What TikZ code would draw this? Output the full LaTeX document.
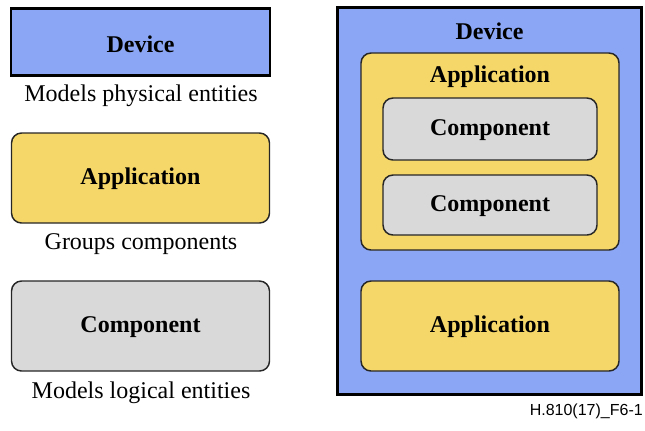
\documentclass[tikz,border=0pt]{standalone}
\usepackage{fontspec}
\setmainfont{Liberation Serif}
\newfontfamily\figsans{Liberation Sans}
\definecolor{devblue}{RGB}{139,166,245}
\definecolor{appyellow}{RGB}{245,215,105}
\definecolor{compgray}{RGB}{217,217,217}
\begin{document}
\begin{tikzpicture}[x=0.75pt,y=-0.75pt,
  boxtitle/.style={font=\fontsize{18}{20}\selectfont\bfseries, inner sep=0pt},
  devbox/.style={draw=black, fill=devblue, line width=2.2pt, inner sep=0pt},
  roundbox/.style={draw=black!85, line width=1.1pt, rounded corners=7.5pt, inner sep=0pt,
     font=\fontsize{18}{20}\selectfont\bfseries, text height=12.5pt, text depth=3pt},
  appbox/.style={roundbox, fill=appyellow},
  compbox/.style={roundbox, fill=compgray},
  caption/.style={font=\fontsize{18}{20}\selectfont, inner sep=0pt, anchor=base}]
\useasboundingbox (0,0) rectangle (645,430);
% left legend
\node[devbox, minimum width=194.25pt, minimum height=50.25pt] (ldev) at (140.5,42) {};
\node[boxtitle, anchor=base] (ldevt) at (140.5,52.5) {Device};
\node[caption] (lcap1) at (141,101.5) {Models physical entities};
\node[appbox, minimum width=193.5pt, minimum height=67.5pt] (lapp) at (140.5,178) {Application};
\node[caption] (lcap2) at (141,249.5) {Groups components};
\node[compbox, minimum width=193.5pt, minimum height=67.5pt] (lcomp) at (140.5,326) {Component};
\node[caption] (lcap3) at (141,398.5) {Models logical entities};
% right nested example
\node[devbox, minimum width=228pt, minimum height=290.25pt] (rdev) at (489.5,201) {};
\node[boxtitle, anchor=base] (rdevt) at (489.5,39) {Device};
\node[appbox, minimum width=193.5pt, minimum height=147.75pt] (rapp1) at (490,151.5) {};
\node[boxtitle, anchor=base] (rapp1t) at (490,82.5) {Application};
\node[compbox, minimum width=160.5pt, minimum height=46.5pt] (rcomp1) at (490,129) {Component};
\node[compbox, minimum width=160.5pt, minimum height=45pt] (rcomp2) at (490,205) {Component};
\node[appbox, minimum width=193.5pt, minimum height=67.5pt] (rapp2) at (490,326) {Application};
% figure id
\node[font=\figsans\fontsize{12}{14}\selectfont, inner sep=0pt, anchor=base east] (figid) at (643,415) {H.810(17)\_F6-1};
\end{tikzpicture}
\end{document}
